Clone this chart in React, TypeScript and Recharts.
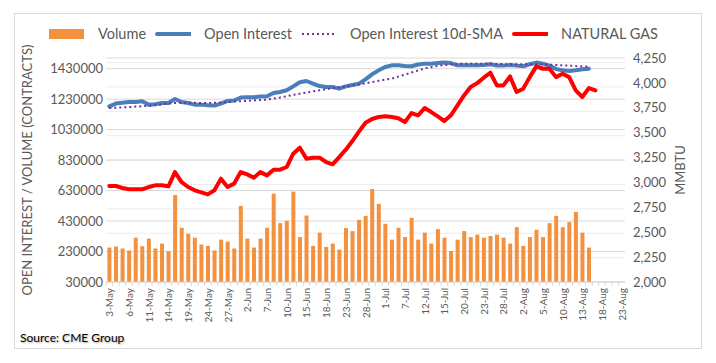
import { ComposedChart, Bar, Line, XAxis, YAxis, CartesianGrid, Legend, Label } from 'recharts';

// trading days, 3-May to 23-Aug (31-May and 5-Jul holidays)
const dates = [
  '3-May', '4-May', '5-May', '6-May', '7-May', '10-May', '11-May', '12-May', '13-May', '14-May',
  '17-May', '18-May', '19-May', '20-May', '21-May', '24-May', '25-May', '26-May', '27-May', '28-May',
  '1-Jun', '2-Jun', '3-Jun', '4-Jun', '7-Jun', '8-Jun', '9-Jun', '10-Jun', '11-Jun', '14-Jun',
  '15-Jun', '16-Jun', '17-Jun', '18-Jun', '21-Jun', '22-Jun', '23-Jun', '24-Jun', '25-Jun', '28-Jun',
  '29-Jun', '30-Jun', '1-Jul', '2-Jul', '6-Jul', '7-Jul', '8-Jul', '9-Jul', '12-Jul', '13-Jul',
  '14-Jul', '15-Jul', '16-Jul', '19-Jul', '20-Jul', '21-Jul', '22-Jul', '23-Jul', '26-Jul', '27-Jul',
  '28-Jul', '29-Jul', '30-Jul', '2-Aug', '3-Aug', '4-Aug', '5-Aug', '6-Aug', '9-Aug', '10-Aug',
  '11-Aug', '12-Aug', '13-Aug', '16-Aug', '17-Aug', '18-Aug', '19-Aug', '20-Aug', '23-Aug',
];

// thousands of contracts
const volumeK = [
  256, 263, 250, 237, 321, 265, 315, 250, 282, 232,
  601, 386, 347, 321, 276, 267, 237, 308, 295, 250,
  530, 315, 256, 315, 386, 610, 416, 432, 623, 325,
  466, 267, 354, 260, 282, 243, 384, 364, 438, 464,
  640, 543, 412, 308, 386, 325, 451, 308, 354, 282,
  377, 321, 234, 308, 364, 325, 341, 321, 332, 341,
  321, 282, 390, 267, 325, 373, 325, 416, 464, 390,
  423, 490, 354, 256,
];

const openInterestK = [
  1183, 1201, 1207, 1211, 1211, 1216, 1194, 1196, 1205, 1205,
  1231, 1211, 1205, 1194, 1194, 1190, 1188, 1201, 1218, 1221,
  1240, 1242, 1242, 1247, 1249, 1270, 1277, 1288, 1314, 1341,
  1349, 1332, 1316, 1310, 1310, 1299, 1314, 1323, 1332, 1360,
  1393, 1419, 1441, 1452, 1452, 1448, 1446, 1457, 1463, 1463,
  1467, 1470, 1467, 1452, 1452, 1452, 1452, 1454, 1459, 1450,
  1450, 1454, 1450, 1446, 1459, 1470, 1463, 1450, 1428, 1419,
  1415, 1419, 1426, 1430,
];

const openInterestSmaK = [
  1172, 1174, 1176, 1178, 1181, 1183, 1187, 1191, 1196, 1201,
  1205, 1206, 1206, 1206, 1205, 1205, 1206, 1208, 1211, 1214,
  1216, 1219, 1222, 1225, 1227, 1234, 1241, 1249, 1258, 1266,
  1273, 1281, 1288, 1295, 1302, 1308, 1314, 1320, 1326, 1334,
  1342, 1350, 1358, 1365, 1378, 1391, 1405, 1418, 1431, 1440,
  1448, 1454, 1459, 1461, 1463, 1463, 1463, 1463, 1462, 1461,
  1460, 1459, 1459, 1459, 1459, 1459, 1458, 1456, 1454, 1452,
  1450, 1447, 1445, 1443,
];

const naturalGas = [
  2964, 2964, 2944, 2931, 2931, 2931, 2954, 2971, 2971, 2961,
  3104, 3004, 2954, 2921, 2900, 2880, 2921, 3038, 2954, 2988,
  3104, 3081, 3048, 3104, 3071, 3128, 3128, 3155, 3289, 3349,
  3239, 3249, 3249, 3205, 3182, 3255, 3329, 3416, 3510, 3600,
  3637, 3657, 3664, 3657, 3644, 3606, 3697, 3674, 3747, 3707,
  3664, 3617, 3674, 3774, 3874, 3958, 3998, 4052, 4102, 3975,
  3975, 4065, 3908, 3942, 4058, 4166, 4142, 4142, 4058, 4092,
  4058, 3925, 3858, 3948, 3925,
];

const leftTicks = [30000, 230000, 430000, 630000, 830000, 1030000, 1230000, 1430000];
const rightTicks = [2000, 2250, 2500, 2750, 3000, 3250, 3500, 3750, 4000, 4250];
const minorGrid = Array.from({ length: 37 }, (_, i) => 30000 + i * 40000);

const FONT = 'Lato, "Open Sans", sans-serif';
const TEXT = '#595959';

const COLORS = {
  volume: '#F4913F',
  oi: '#4A7EBB',
  sma: '#7030A0',
  gas: '#FF0000',
};

const data = dates.map((date, i) => ({
  date,
  volume: volumeK[i] != null ? volumeK[i] * 1000 : null,
  oi: openInterestK[i] != null ? openInterestK[i] * 1000 : null,
  sma: openInterestSmaK[i] != null ? openInterestSmaK[i] * 1000 : null,
  gas: naturalGas[i] ?? null,
}));

const legendItems = [
  { name: 'Volume', kind: 'bar', color: COLORS.volume },
  { name: 'Open Interest', kind: 'line', color: COLORS.oi },
  { name: 'Open Interest 10d-SMA', kind: 'dots', color: COLORS.sma },
  { name: 'NATURAL GAS', kind: 'line', color: COLORS.gas },
];

function ChartLegend() {
  return (
    <div style={{ display: 'flex', justifyContent: 'center', alignItems: 'center', fontFamily: FONT, fontSize: 14.5, color: TEXT }}>
      {legendItems.map((item) => (
        <div key={item.name} style={{ display: 'flex', alignItems: 'center', marginRight: 9 }}>
          <svg width={36} height={12} style={{ marginRight: 13 }}>
            {item.kind === 'bar' && <rect x={0} y={1} width={35} height={10} fill={item.color} />}
            {item.kind === 'line' && (
              <line x1={2} y1={6} x2={36} y2={6} stroke={item.color} strokeWidth={4} strokeLinecap="round" />
            )}
            {item.kind === 'dots' && (
              <line x1={1} y1={6} x2={36} y2={6} stroke={item.color} strokeWidth={2} strokeDasharray="2 3" />
            )}
          </svg>
          <span>{item.name}</span>
        </div>
      ))}
    </div>
  );
}

function DateTick(props: any) {
  const { x, y, payload, index } = props;
  const off = payload && payload.offset ? payload.offset : 3.3;
  return (
    <g>
      <line x1={x - off} y1={y - 6} x2={x - off} y2={y - 2} stroke="#d9d9d9" />
      {index % 3 === 0 && (
        <text
          x={x}
          y={y}
          transform={`rotate(-90 ${x} ${y})`}
          textAnchor="end"
          dominantBaseline="central"
          fontFamily={FONT}
          fontSize={10}
          fill={TEXT}
        >
          {payload.value}
        </text>
      )}
    </g>
  );
}

export default function App() {
  return (
    <div style={{ position: 'fixed', left: 0, top: 0, width: 716, height: 363, background: '#fff', fontFamily: FONT }}>
      <div style={{ position: 'absolute', left: 14, top: 13, width: 686, height: 334, border: '1px solid #d9d9d9' }} />
      <div style={{ position: 'absolute', left: 0, top: 0 }}>
        <ComposedChart
          width={716}
          height={363}
          data={data}
          margin={{ top: 58, right: 31, bottom: 21, left: 16 }}
          barCategoryGap="22%"
        >
          <CartesianGrid yAxisId="left" vertical={false} stroke="#ececec" horizontalValues={minorGrid} />
          <CartesianGrid yAxisId="left" vertical={false} stroke="#d9d9d9" />
          <XAxis
            dataKey="date"
            interval={0}
            height={60}
            tickSize={4}
            tickMargin={2}
            tickLine={false}
            axisLine={{ stroke: '#d9d9d9' }}
            tick={<DateTick />}
          />
          <YAxis
            yAxisId="left"
            width={90}
            domain={[30000, 1500000]}
            ticks={leftTicks}
            axisLine={false}
            tickLine={false}
            tickSize={0}
            tickMargin={3}
            tick={{ fill: TEXT, fontSize: 13, fontFamily: FONT }}
          >
            <Label
              content={() => (
                <text
                  x={27}
                  y={170}
                  transform="rotate(-90 27 170)"
                  textAnchor="middle"
                  dominantBaseline="central"
                  fontFamily={FONT}
                  fontSize={13}
                  fill={TEXT}
                >
                  OPEN INTEREST / VOLUME (CONTRACTS)
                </text>
              )}
            />
          </YAxis>
          <YAxis
            yAxisId="right"
            orientation="right"
            width={60}
            domain={[2000, 4250]}
            ticks={rightTicks}
            axisLine={false}
            tickLine={false}
            tickSize={0}
            tickMargin={8}
            tickFormatter={(v: number) => v.toLocaleString('en-US')}
            tick={{ fill: TEXT, fontSize: 13, fontFamily: FONT }}
          >
            <Label
              content={() => (
                <text
                  x={680}
                  y={170}
                  transform="rotate(-90 680 170)"
                  textAnchor="middle"
                  dominantBaseline="central"
                  fontFamily={FONT}
                  fontSize={13}
                  fill={TEXT}
                >
                  MMBTU
                </text>
              )}
            />
          </YAxis>
          <Legend
            verticalAlign="middle"
            wrapperStyle={{ left: 0, top: 25, width: 716 }}
            content={() => <ChartLegend />}
          />
          <Bar yAxisId="left" dataKey="volume" name="Volume" fill={COLORS.volume} isAnimationActive={false} />
          <Line
            yAxisId="left"
            type="linear"
            dataKey="oi"
            name="Open Interest"
            stroke={COLORS.oi}
            strokeWidth={4}
            strokeLinecap="round"
            strokeLinejoin="round"
            dot={false}
            isAnimationActive={false}
          />
          <Line
            yAxisId="left"
            type="linear"
            dataKey="sma"
            name="Open Interest 10d-SMA"
            stroke={COLORS.sma}
            strokeWidth={2}
            strokeDasharray="2 3"
            dot={false}
            isAnimationActive={false}
          />
          <Line
            yAxisId="right"
            type="linear"
            dataKey="gas"
            name="NATURAL GAS"
            stroke={COLORS.gas}
            strokeWidth={4}
            strokeLinecap="round"
            strokeLinejoin="round"
            dot={false}
            isAnimationActive={false}
          />
        </ComposedChart>
      </div>
      <div
        style={{
          position: 'absolute',
          left: 20,
          top: 330,
          fontSize: 12,
          color: '#000',
          textShadow: '1px 1px 2px rgba(0,0,0,0.35)',
        }}
      >
        Source: CME Group
      </div>
    </div>
  );
}
